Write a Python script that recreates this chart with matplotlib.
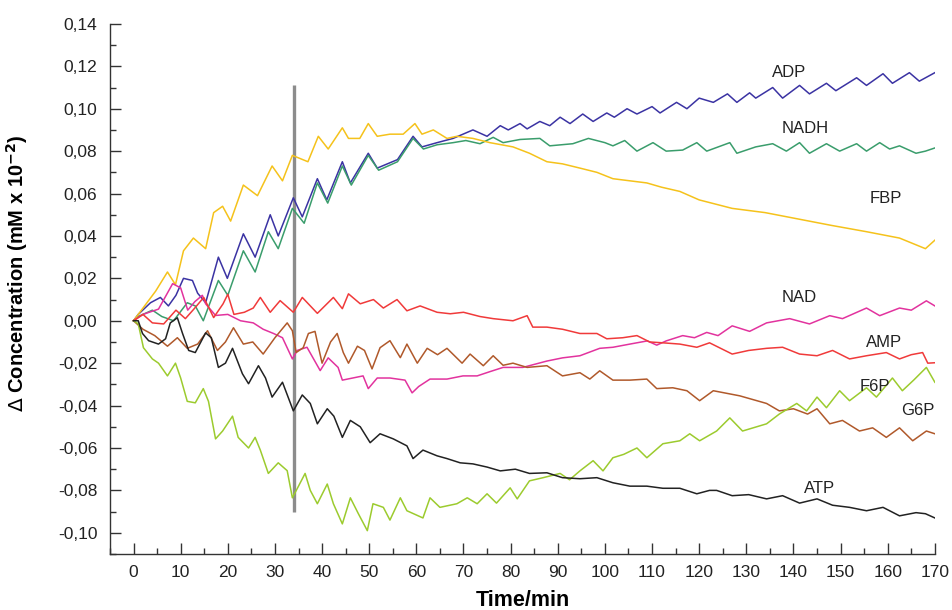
import matplotlib
matplotlib.use("Agg")
import matplotlib.pyplot as plt
from matplotlib.ticker import MultipleLocator, FuncFormatter

plt.rcParams['font.family'] = ['Liberation Sans', 'DejaVu Sans']

# values (time in min, delta concentration)
adp_t = [0, 1, 3.6, 5.7, 7.4, 9, 10.6, 12.5, 13.6, 15.3, 18, 19.9, 23.3, 25.8, 29, 30.7, 33.9, 35.8, 39, 41,
         44.3, 46, 49.8, 51.7, 56, 59.3, 61.2, 64.4, 67.8, 72, 75, 77.8, 79.5, 82, 83.5, 86.2, 88.3, 90.5, 92.6, 95.3,
         97.5, 100.4, 102, 104.7, 106.8, 110, 111.7, 115.2, 117.4, 120, 123, 126, 128, 130.7, 132, 135.6, 137.7, 141.3,
         143.4, 147, 149, 153.4, 155.5, 159, 161, 164.6, 166.7, 170]
adp_v = [0, 0.003, 0.0085, 0.011, 0.007, 0.012, 0.020, 0.019, 0.013, 0.0085, 0.030, 0.020, 0.041, 0.030, 0.050, 0.040,
         0.058, 0.049, 0.067, 0.057, 0.075, 0.065, 0.079, 0.072, 0.076, 0.087, 0.082, 0.084, 0.086, 0.090, 0.087, 0.092,
         0.090, 0.093, 0.0905, 0.094, 0.092, 0.096, 0.093, 0.0975, 0.094, 0.098, 0.096, 0.100, 0.0975, 0.101, 0.098,
         0.103, 0.100, 0.105, 0.103, 0.107, 0.103, 0.1075, 0.105, 0.110, 0.105, 0.111, 0.107, 0.112, 0.1085, 0.1146,
         0.111, 0.1165, 0.112, 0.117, 0.113, 0.117]

nadh_t = [0, 1, 4, 6, 8.5, 11.4, 13.1, 14.8, 18, 20, 23.3, 25.8, 28.6, 30.7, 33.7, 36.2, 39, 41.2, 44.3, 46.2,
          49.8, 52, 56, 59.3, 61.5, 64.4, 67.8, 70.5, 73.5, 76.3, 78.4, 82, 86.2, 88.3, 93.2, 96.5, 100, 101.7, 104.2,
          106.8, 110.2, 113, 116.5, 119.5, 121.6, 126.5, 128, 132, 135.6, 138.5, 141.3, 143.4, 147, 149.8, 153.4,
          155.5, 158.3, 160.4, 162.5, 166, 168, 170]
nadh_v = [0, 0.002, 0.005, 0.002, 0.0, 0.0085, 0.007, 0.0, 0.019, 0.012, 0.033, 0.023, 0.042, 0.034, 0.053, 0.046,
          0.065, 0.0555, 0.073, 0.064, 0.078, 0.071, 0.075, 0.086, 0.081, 0.083, 0.084, 0.085, 0.0835, 0.0865, 0.084,
          0.0855, 0.086, 0.0825, 0.0835, 0.086, 0.084, 0.0825, 0.085, 0.080, 0.084, 0.080, 0.0805, 0.084, 0.080, 0.084,
          0.079, 0.082, 0.0835, 0.080, 0.084, 0.079, 0.0835, 0.080, 0.0835, 0.080, 0.084, 0.081, 0.0825, 0.079,
          0.080, 0.0815]

fbp_t = [0, 1, 4.7, 7.2, 8.9, 10.6, 12.7, 15.3, 17, 18.9, 20.6, 23.3, 26.3, 29.4, 31.6, 33.7, 37, 39.2, 41.3, 44.3,
         45.6, 48, 49.8, 51.7, 54.4, 57.2, 59.7, 61.2, 63.6, 66.5, 68.6, 72, 75.6, 80.5, 84, 87.7, 91, 94.7, 98.3,
         101.7, 105.3, 108.9, 112, 115.9, 120, 127, 134, 141, 148, 155.5, 162.5, 168, 170]
fbp_v = [0, 0.003, 0.014, 0.023, 0.017, 0.033, 0.039, 0.034, 0.051, 0.054, 0.047, 0.064, 0.059, 0.073, 0.066, 0.078,
         0.075, 0.087, 0.081, 0.091, 0.086, 0.086, 0.093, 0.087, 0.088, 0.088, 0.093, 0.088, 0.090, 0.086, 0.087,
         0.086, 0.084, 0.082, 0.079, 0.075, 0.074, 0.072, 0.070, 0.067, 0.066, 0.065, 0.063, 0.061, 0.057, 0.053,
         0.051, 0.048, 0.045, 0.042, 0.039, 0.034, 0.038]

nad_t = [0, 2, 5.3, 8.3, 10, 11.5, 13, 14.6, 15.3, 17.4, 20, 22.7, 25.4, 27.5, 29.7, 31.6, 33.7, 34.7, 36.8, 39.6,
         41.3, 43.4, 44.3, 46.5, 48.7, 49.8, 51.7, 54.4, 57.6, 59.1, 60.5, 62.9, 66.5, 69.9, 72.9, 75.6, 78.4, 82.6,
         87.7, 91, 94.7, 98.9, 101.7, 105.3, 109, 111, 113, 116.5, 119, 121.6, 124, 127, 130.7, 134.3, 139.2, 143.4,
         147.7, 150.4, 155.5, 158.3, 162.5, 165, 168.2, 170]
nad_v = [0, 0.003, 0.0055, 0.0175, 0.0155, 0.005, 0.009, 0.012, 0.008, 0.0025, 0.003, 0.0, -0.001, -0.004, -0.006,
         -0.008, -0.018, -0.014, -0.0125, -0.0235, -0.0175, -0.022, -0.028, -0.027, -0.026, -0.032, -0.027, -0.027,
         -0.028, -0.034, -0.031, -0.0275, -0.0275, -0.026, -0.026, -0.024, -0.022, -0.022, -0.019, -0.0175, -0.0165,
         -0.013, -0.0125, -0.011, -0.0095, -0.0115, -0.0095, -0.007, -0.008, -0.0055, -0.007, -0.0024, -0.005, -0.001,
         0.001, -0.0015, 0.0024, 0.001, 0.006, 0.0024, 0.006, 0.005, 0.0094, 0.007]

amp_t = [0, 2, 4, 6.4, 9, 11, 12.8, 14.9, 17, 19, 20, 21.3, 23.5, 25.4, 26.9, 29, 31.1, 33.9, 35.8, 39,
         42.4, 44.3, 45.6, 48.1, 50.9, 53, 55.9, 58, 60.8, 64.4, 67.2, 70, 73.5, 76.3, 80.5, 83.5, 84.7, 87.7, 91,
         94.7, 98.3, 100.4, 103.8, 106.8, 109.5, 112.3, 115.9, 119.5, 122.2, 127, 130.5, 134.3, 137.7, 141.3, 145,
         148.3, 151.9, 155.5, 159.7, 162.5, 165, 167.4, 168.5, 170]
amp_v = [0, 0.003, -0.001, -0.0015, 0.005, 0.001, 0.0055, 0.011, 0.0015, 0.008, 0.0125, 0.003, 0.004, 0.006, 0.011,
         0.004, 0.0095, 0.004, 0.011, 0.0035, 0.011, 0.0057, 0.0127, 0.008, 0.010, 0.006, 0.010, 0.0047, 0.007, 0.004,
         0.0033, 0.004, 0.002, 0.001, 0.0, 0.0024, -0.003, -0.003, -0.004, -0.006, -0.006, -0.0085, -0.008, -0.007,
         -0.010, -0.0104, -0.011, -0.0125, -0.0104, -0.0157, -0.014, -0.013, -0.0125, -0.0157, -0.0165, -0.014,
         -0.018, -0.0165, -0.015, -0.018, -0.016, -0.015, -0.020, -0.0198]

g6p_t = [0, 2, 4.5, 7.2, 9.3, 11.4, 13.6, 15.7, 17.8, 19.5, 21.2, 23.3, 25.3, 27.5, 30, 32.6, 33.7, 34.5, 36, 37.1,
         38.5, 40, 41.8, 43.2, 44.5, 45.6, 47.5, 49, 50.6, 52.3, 54.4, 56.6, 58, 60.2, 62.3, 64.5, 66.5, 69.7, 71.4,
         74.2, 76.3, 78.4, 80.5, 83.5, 87.7, 91, 94.7, 96.8, 98.9, 101.7, 105.3, 108.9, 111, 114.4, 117.4, 120.1, 123,
         128.6, 134.3, 137, 140, 143, 145, 147.7, 150.4, 154, 156.8, 159.7, 162.5, 165.3, 168.2, 170]
g6p_v = [0, -0.004, -0.007, -0.012, -0.008, -0.013, -0.011, -0.0047, -0.014, -0.010, -0.0033, -0.011, -0.010,
         -0.0157, -0.008, -0.001, -0.0047, -0.015, -0.0127, -0.006, -0.005, -0.020, -0.010, -0.006, -0.015, -0.020,
         -0.012, -0.014, -0.0227, -0.0127, -0.0094, -0.0174, -0.011, -0.020, -0.013, -0.016, -0.013, -0.020, -0.0157,
         -0.0212, -0.0165, -0.021, -0.020, -0.022, -0.0212, -0.026, -0.0245, -0.0275, -0.0236, -0.028, -0.028,
         -0.0275, -0.032, -0.0316, -0.033, -0.0377, -0.033, -0.0354, -0.039, -0.0425, -0.0415, -0.044, -0.0415,
         -0.0486, -0.047, -0.052, -0.0505, -0.055, -0.0505, -0.0566, -0.052, -0.0533]

f6p_t = [0, 1, 2.1, 4, 5.3, 7.2, 8.9, 10, 11.4, 13.1, 14.8, 15.9, 17.4, 18.9, 21, 22.2, 24.4, 25.8, 26.9, 28.6,
         30.7, 32.6, 33.7, 35, 36.4, 37.5, 39, 41.1, 42.4, 44.3, 46, 47.7, 49.6, 50.8, 53, 54.4, 56.6, 58, 61.4, 62.9,
         65, 68.6, 70.8, 72.9, 75, 77, 79.9, 81.4, 84, 86.9, 90.5, 92.5, 94.7, 97.5, 99.6, 101.7, 104, 106.8, 108.9,
         112.3, 115.9, 118, 120.1, 123.7, 126.5, 129.2, 134.3, 137, 140.7, 142.8, 145, 147, 149.8, 151.9, 155.5,
         157.6, 161, 163.1, 165.5, 168.2, 170]
f6p_v = [0, -0.0014, -0.0127, -0.018, -0.020, -0.026, -0.020, -0.027, -0.038, -0.0387, -0.032, -0.038, -0.0557,
         -0.052, -0.045, -0.055, -0.060, -0.055, -0.061, -0.072, -0.067, -0.0707, -0.0835, -0.078, -0.072, -0.080,
         -0.0863, -0.077, -0.0863, -0.0958, -0.0835, -0.091, -0.099, -0.0863, -0.088, -0.094, -0.0835, -0.0896,
         -0.093, -0.0835, -0.088, -0.0863, -0.0835, -0.0863, -0.0816, -0.086, -0.0788, -0.084, -0.0755, -0.074,
         -0.072, -0.075, -0.0708, -0.066, -0.0708, -0.0646, -0.063, -0.060, -0.0646, -0.058, -0.0566, -0.0533,
         -0.0566, -0.052, -0.0458, -0.052, -0.0486, -0.044, -0.039, -0.0425, -0.036, -0.041, -0.033, -0.0377,
         -0.0316, -0.036, -0.027, -0.033, -0.028, -0.022, -0.029]

atp_t = [0, 1, 1.9, 3.2, 5.3, 6.8, 7.8, 9.3, 10.4, 11.7, 13.1, 15.3, 16.5, 18, 19.5, 21, 23.1, 24.4, 26.5, 28,
         29.4, 31.6, 33.9, 35.8, 37.5, 39, 41.1, 42.5, 44.3, 46, 48.1, 50.2, 52.3, 55.1, 58, 59.3, 61.4, 64.4, 66.5,
         69.3, 72, 75, 77.8, 81, 84, 87.7, 91, 94.7, 98.3, 101.7, 105.3, 108.9, 112.3, 115.9, 119.5, 122.2, 123.7,
         127, 130.5, 134.3, 137.7, 141.3, 145, 148.3, 151.9, 155.5, 159, 162.5, 166, 168, 170]
atp_v = [0, 0.0, -0.006, -0.0094, -0.011, -0.0085, -0.001, 0.0014, -0.006, -0.014, -0.015, -0.0057, -0.008, -0.022,
         -0.020, -0.013, -0.025, -0.0297, -0.0212, -0.027, -0.036, -0.029, -0.0425, -0.035, -0.039, -0.0486, -0.0415,
         -0.045, -0.055, -0.047, -0.050, -0.0575, -0.0533, -0.0557, -0.059, -0.065, -0.061, -0.0637, -0.065, -0.067,
         -0.0675, -0.069, -0.0708, -0.070, -0.072, -0.0717, -0.074, -0.0745, -0.074, -0.0764, -0.078, -0.078, -0.079,
         -0.079, -0.0816, -0.080, -0.080, -0.0825, -0.082, -0.084, -0.0825, -0.086, -0.084, -0.087, -0.088, -0.0896,
         -0.088, -0.092, -0.0905, -0.091, -0.093]

# name, times, values, colour, label position
series = [
    ("ADP", adp_t, adp_v, "#3b33a3", (139, 0.117)),
    ("NADH", nadh_t, nadh_v, "#3a9d6c", (142.5, 0.0905)),
    ("FBP", fbp_t, fbp_v, "#f5c21b", (159.7, 0.0575)),
    ("NAD", nad_t, nad_v, "#e2339e", (141.3, 0.0108)),
    ("AMP", amp_t, amp_v, "#f03a3a", (159.3, -0.0104)),
    ("G6P", g6p_t, g6p_v, "#b0592b", (166.3, -0.0425)),
    ("F6P", f6p_t, f6p_v, "#9ccb2e", (157.2, -0.031)),
    ("ATP", atp_t, atp_v, "#222222", (145.5, -0.079)),
]
marker_time = 34
marker_range = (-0.09, 0.111)

fig = plt.figure(figsize=(9.52, 6.10), dpi=100)
ax = fig.add_axes([0.1155, 0.0918, 0.8665, 0.869])

ax.vlines(marker_time, marker_range[0], marker_range[1], color="#8c8c8c", lw=2.4, zorder=1)

for name, t, v, col, pos in series:
    ax.plot(t, v, color=col, lw=1.1, zorder=2, solid_joinstyle="round")
    ax.text(pos[0], pos[1], name, fontsize=12, color="#222222", ha="center", va="center")

ax.set_xlim(-5, 170)
ax.set_ylim(-0.11, 0.14)
ax.xaxis.set_major_locator(MultipleLocator(10))
ax.xaxis.set_minor_locator(MultipleLocator(5))
ax.yaxis.set_major_locator(MultipleLocator(0.02))
ax.yaxis.set_minor_locator(MultipleLocator(0.01))
ax.yaxis.set_major_formatter(FuncFormatter(lambda y, p: f"{round(y, 2) + 0.0:.2f}".replace(".", ",")))

for s in ["top", "right"]:
    ax.spines[s].set_visible(False)
for s in ["left", "bottom"]:
    ax.spines[s].set_color("#333333")
    ax.spines[s].set_linewidth(1.0)

ax.tick_params(which="major", direction="in", length=8, width=1, color="#333333",
               labelsize=12.5, labelcolor="#222222")
ax.tick_params(which="minor", direction="in", length=4, width=1, color="#333333")
ax.tick_params(axis="y", pad=9)
ax.tick_params(axis="x", pad=8)

ax.set_xlabel("Time/min", fontsize=15.5, fontweight="bold", labelpad=7)
ax.set_ylabel(r"$\Delta$ Concentration (mM x 10$^{\mathbf{-2}}$)", fontsize=14.5, fontweight="bold")
ax.yaxis.set_label_coords(-0.097, 0.53)

fig.savefig("out.png", dpi=100)
